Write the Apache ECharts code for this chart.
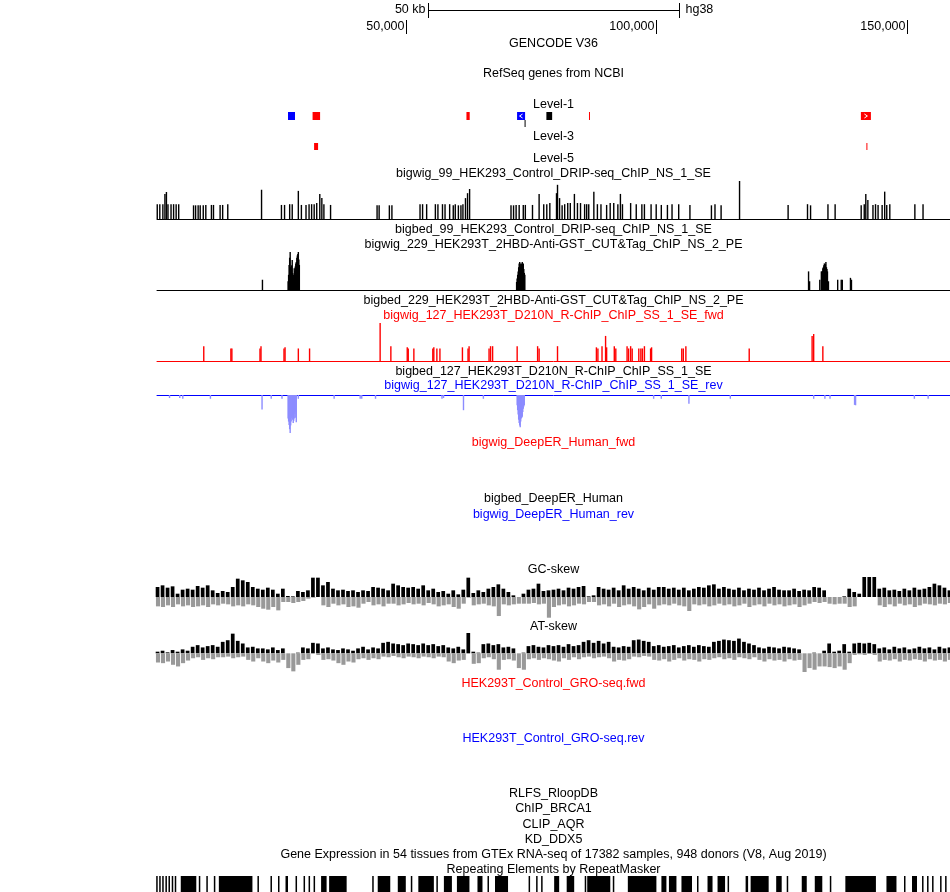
<!DOCTYPE html>
<html><head><meta charset="utf-8">
<script src="https://cdn.jsdelivr.net/npm/echarts@6/dist/echarts.min.js"></script>
<style>html,body{margin:0;padding:0;background:#fff}#c{width:950px;height:892px}</style>
</head><body><div id="c"></div>
<script>
// ---------------- DATA ----------------
const viewStartKb = 0.36, viewEndKb = 158.58;
const rulerTickKb = [50, 100, 150];
const rulerTickLabels = ['50,000', '100,000', '150,000'];
const scaleBarKb = 50;
const scaleBarLabel = '50 kb';
const assembly = 'hg38';

// gene models (kb)
const geneStartKb = [26.5, 31.4, 62.1, 72.2, 73.7, 78.05, 86.55, 140.8, 31.7, 141.9];
const geneEndKb   = [27.9, 32.9, 62.75, 73.8, 73.9, 79.2, 86.75, 142.8, 32.5, 142.1];
const geneRow     = [1, 1, 1, 1, 2, 1, 1, 1, 3, 3];
const geneClass   = ['known', 'novel', 'novel', 'known', 'other', 'other', 'novel', 'novel', 'novel', 'novel'];
const geneArrow   = [0, 0, 0, -1, 0, 0, 0, 1, 0, 0];

// DRIP-seq signal [kb, value]
const dripSignal = [[0.41,39],[0.92,39],[1.53,39],[1.94,66],[2.24,71],[2.55,39],[3.16,39],[3.67,39],[4.18,39],[4.69,39],
[7.65,36],[8.06,36],[8.57,36],[8.98,36],[9.59,36],[10.1,37],[11.22,37],[11.63,37],[12.95,37],[13.46,37],[14.48,39],
[21.22,77],
[25.19,37],[25.81,37],[26.83,39],[27.34,39],[28.56,74],[29.17,37],[30.09,37],[30.7,39],[31.21,39],[31.72,39],[32.23,42],[32.84,66],[33.25,55],[33.66,39],[34.99,37],
[44.27,36],[44.68,36],[46.72,36],[47.23,36],
[52.84,39],[53.35,39],[54.16,39],[55.9,39],[56.41,39],[57.32,39],[57.83,39],[58.75,39],[59.47,36],[59.87,39],[60.49,36],[61,36],[61.4,39],[61.91,55],[62.32,68],[62.73,79],
[70.99,36],[71.5,36],[72.01,37],[72.62,37],[73.44,37],[73.85,37],[75.28,37],[76.6,66],[77.52,39],[78.13,39],[78.74,42],[80.07,68],[80.27,90],[80.68,55],[81.19,36],[81.7,39],[82.31,42],[82.82,42],[83.64,66],[84.25,42],[84.86,42],[85.68,39],[86.09,39],[86.5,39],[87.52,72],[88.23,39],[88.94,39],[90.07,37],[90.78,42],[91.49,42],[92.31,39],[92.82,66],[93.23,39],[94.86,42],[95.98,39],[97.1,39],[97.61,39],[98.94,39],[99.96,39],[100.98,37],[102.2,37],[103.12,39],[104.45,39],[106.69,37],[110.98,36],[111.69,39],[112.91,36],[116.59,100],
[126.28,37],[130.15,39],[130.76,36],[134.23,39],[135.66,39],
[140.86,36],[141.47,39],[141.78,66],[142.19,50],[143.21,37],[143.72,39],[144.23,37],[145.04,37],[145.55,72],[145.96,37],[146.57,39],[151.57,39],[153.2,39]];

// CUT&Tag signal [kb, value]
const cutTagSignal = [[21.4,27],
[26.52,23],[26.62,40],[26.72,66],[26.83,85],[26.93,100],[27.03,60],[27.13,49],[27.23,65],[27.34,79],[27.44,45],[27.54,32],[27.64,40],[27.74,57],[27.85,50],[27.95,62],[28.05,70],[28.15,74],[28.26,85],[28.36,91],[28.46,95],[28.56,100],[28.66,80],[28.76,66],
[72.11,21],[72.21,30],[72.32,40],[72.42,49],[72.52,60],[72.62,70],[72.73,74],[72.83,70],[72.93,60],[73.03,66],[73.13,70],[73.24,74],[73.34,65],[73.44,70],[73.54,55],[73.65,45],[73.75,40],
[130.36,49],[130.56,23],[132.6,27],[132.91,49],[133.01,40],[133.11,50],[133.21,57],[133.31,60],[133.41,65],[133.52,70],[133.62,60],[133.72,68],[133.82,74],[133.93,60],[134.03,55],[134.13,49],[134.33,23],[136.17,27],[136.88,27],[137.09,27],[138.72,32],[138.92,27]];

// R-ChIP forward [kb, value]
const rchipFwd = [[9.69,39],[15.1,33],[15.3,33],[20.91,33],[21.11,39],[25.7,33],[25.91,36],[28.56,33],[30.8,33],[44.88,100],[47.02,39],[50.29,36],[50.49,33],[51.61,33],[55.39,33],[55.59,36],[56.2,33],[56.81,33],[61.3,36],[62.42,33],[62.63,39],[66.61,33],[66.91,39],[67.32,39],[72.22,39],[76.3,39],[76.6,33],[80.27,39],[88.03,36],[88.33,33],[89.15,39],[89.86,66],[90.07,36],[91.6,39],[91.9,33],[94.15,39],[94.45,33],[94.86,39],[95.17,33],[96.49,33],[96.9,33],[97.21,33],[97.61,39],[98.84,33],[99.04,36],[105.06,33],[105.37,33],[105.88,39],[118.52,33],[131.07,66],[131.38,71],[133.21,39]];

// R-ChIP reverse [kb, value]
const rchipRev = [[2.86,-8],[4.9,-8],[5.51,-10],[11.02,-10],[21.32,-38],[23.15,-10],[25.3,-10],[26.52,-62],[26.62,-70],[26.72,-79],[26.83,-90],[26.93,-100],[27.03,-80],[27.13,-70],[27.23,-60],[27.34,-53],[27.44,-65],[27.54,-74],[27.64,-68],[27.74,-62],[27.85,-50],[27.95,-44],[28.05,-60],[28.15,-72],[28.56,-10],[35.7,-10],[40.9,-10],[41.21,-10],[43.96,-10],[57.22,-10],[57.53,-8],[61.51,-40],[65.48,-10],
[72.22,-27],[72.32,-40],[72.42,-51],[72.52,-65],[72.62,-74],[72.73,-80],[72.83,-85],[72.93,-70],[73.03,-62],[73.13,-60],[73.24,-57],[73.34,-45],[73.44,-36],[73.54,-30],[73.64,-27],[99.45,-10],[100.98,-10],[106.49,-23],[114.75,-10],[131.38,-10],[133.62,-10],[134.64,-10],[139.54,-26],[139.74,-27],[151.47,-10],[154.22,-10]];

// GC-skew per 1 kb bin (positive part / negative depth)
const gcPos = [30,35,28,32,10,22,25,22,33,28,35,20,12,18,15,30,55,50,45,30,25,22,28,22,10,25,3,2,18,15,20,58,58,35,45,25,20,22,18,20,15,20,18,30,28,25,20,40,35,30,28,30,25,35,20,25,15,18,10,20,8,22,58,12,20,15,25,30,38,25,15,5,0,10,22,25,40,18,20,
22,25,20,28,25,30,33,2,5,30,25,22,28,20,35,25,30,25,20,28,22,30,30,25,28,22,28,20,25,30,28,35,38,25,30,25,22,28,20,25,22,28,20,25,30,22,20,20,25,18,22,20,30,28,20,0,0,0,2,25,15,10,60,60,60,25,28,20,22,18,25,20,28,22,25,30,40,35,28,20];
const gcNeg = [28,30,25,30,22,28,25,30,28,25,30,22,25,20,22,28,25,28,22,25,30,35,38,30,40,15,15,18,15,12,5,2,0,25,30,20,25,22,30,28,32,20,15,25,22,28,20,20,25,22,18,22,20,25,18,22,28,25,22,30,35,20,2,25,22,20,25,28,57,22,25,22,20,20,20,18,22,20,62,
30,25,22,28,25,20,22,15,15,25,22,28,20,30,25,22,28,37,30,22,35,25,22,25,20,25,28,42,22,25,22,28,25,20,25,22,28,25,20,30,25,22,28,20,25,22,28,25,22,30,25,20,15,18,15,20,22,20,20,30,28,0,0,0,0,25,30,22,28,20,25,22,30,25,20,22,25,20,22,18];

// AT-skew per 1 kb bin
const atPos = [5,8,3,10,5,12,8,20,25,18,22,25,20,35,40,60,38,30,18,20,15,15,12,18,10,15,0,0,2,18,15,32,30,15,18,12,10,15,12,8,15,20,12,18,15,32,35,30,28,25,30,28,25,30,25,28,22,25,18,15,20,12,62,5,2,28,30,25,28,18,20,15,0,2,22,25,20,18,25,22,
25,20,28,22,25,35,40,32,38,30,35,20,18,22,20,40,42,38,35,22,25,20,22,25,18,22,25,20,25,22,20,35,38,42,40,38,45,35,30,25,18,15,20,18,15,20,18,15,12,0,0,2,0,8,30,5,8,28,5,30,32,30,32,28,15,18,12,20,15,18,12,15,20,15,18,12,20,15,18];
const atNeg = [28,30,25,35,40,30,22,15,12,20,15,18,12,12,10,15,12,10,20,25,15,25,30,22,28,20,45,55,35,20,18,0,5,20,18,22,30,35,25,28,18,15,20,15,18,10,12,8,12,15,10,12,15,10,12,15,10,12,25,30,22,20,0,32,30,15,12,18,50,20,18,22,45,50,18,15,20,15,18,22,
25,15,20,12,18,12,10,15,12,10,15,25,20,22,18,10,12,8,10,20,22,18,25,20,15,22,18,20,25,18,20,15,12,18,15,20,12,15,18,12,20,25,18,22,20,25,18,22,20,57,45,50,40,40,42,45,40,50,30,5,3,5,2,5,25,20,22,18,25,20,22,18,20,25,18,22,20,25,20];

// RepeatMasker elements [startKb, endKb]
const repeatElements = [[0.2,0.5],[0.8,1.1],[1.4,1.7],[2.04,2.34],[2.65,2.95],[3.3,3.6],[3.9,4.2],[5.1,8.2],[8.7,9.0],[10.2,10.5],[11.7,12.0],[12.7,19.4],[20.4,20.7],[23.0,23.3],[24.5,24.8],[26.0,26.5],[28.0,28.3],[29.6,29.9],[30.6,30.9],[31.6,31.9],[33.1,34.2],[34.7,38.2],[43.3,43.6],[44.4,46.9],[48.4,50.0],[51.0,51.3],[52.5,55.6],[56.1,56.4],[57.6,59.2],[60.2,62.7],[64.3,65.3],[66.3,66.6],[67.8,70.4],[74.5,74.8],[76.0,76.3],[77.0,77.3],[79.6,80.6],[82.1,83.6],[85.7,86.0],[86.2,90.8],[91.3,91.6],[94.3,100.0],[101.0,102.0],[102.5,104.0],[105.0,107.1],[108.1,108.4],[110.2,111.2],[112.2,113.7],[114.2,114.5],[117.8,118.3],[118.8,122.4],[123.9,125.0],[126.0,126.3],[129.0,130.0],[131.6,133.1],[134.6,134.9],[137.7,143.8],[145.9,147.9],[149.4,149.7],[151.0,152.0],[153.0,153.3],[154.0,154.3],[155.0,155.3],[156.6,156.9],[157.6,157.9]];

// track titles
const trackTitles = ['GENCODE V36','RefSeq genes from NCBI','Level-1','Level-3','Level-5',
'bigwig_99_HEK293_Control_DRIP-seq_ChIP_NS_1_SE','bigbed_99_HEK293_Control_DRIP-seq_ChIP_NS_1_SE',
'bigwig_229_HEK293T_2HBD-Anti-GST_CUT&Tag_ChIP_NS_2_PE','bigbed_229_HEK293T_2HBD-Anti-GST_CUT&Tag_ChIP_NS_2_PE',
'bigwig_127_HEK293T_D210N_R-ChIP_ChIP_SS_1_SE_fwd','bigbed_127_HEK293T_D210N_R-ChIP_ChIP_SS_1_SE','bigwig_127_HEK293T_D210N_R-ChIP_ChIP_SS_1_SE_rev',
'bigwig_DeepER_Human_fwd','bigbed_DeepER_Human','bigwig_DeepER_Human_rev','GC-skew','AT-skew',
'HEK293T_Control_GRO-seq.fwd','HEK293T_Control_GRO-seq.rev','RLFS_RloopDB','ChIP_BRCA1','CLIP_AQR','KD_DDX5',
'Gene Expression in 54 tissues from GTEx RNA-seq of 17382 samples, 948 donors (V8, Aug 2019)','Repeating Elements by RepeatMasker'];
const trackStrand = ['','','','','','','','','','+','','-','+','','-','','','+','-','','','','','',''];

// ---------------- LAYOUT / STYLE ----------------
const FONT = '12.5px "Liberation Sans", Arial, sans-serif';
const titleY = [44,74,105,137,159,174,230,245,301,316,372,386,443,499,515,570,627,684,739,794,809,825,840,855,870];
const strandColor = {'': '#000000', '+': '#ff0000', '-': '#0000ff'};
const classColor = {known: '#0000ff', novel: '#ff0000', other: '#000000'};
const rowY = {1: [112, 7], 2: [120, 7], 3: [143, 7]};
const L = 157, W = 793, CX = 553.5;

const chart = echarts.init(document.getElementById('c'), null, {renderer: 'canvas'});

const grids = [
  {top: 0, height: 40},      // 0 ruler
  {top: 100, height: 55},    // 1 genes
  {top: 181, height: 38},    // 2 DRIP
  {top: 252, height: 38},    // 3 CUT&Tag
  {top: 323, height: 38},    // 4 R-ChIP fwd
  {top: 395, height: 38},    // 5 R-ChIP rev
  {top: 577, height: 40.7},  // 6 GC
  {top: 633, height: 40},    // 7 AT
  {top: 876, height: 16}     // 8 repeats
].map(g => Object.assign({left: L, width: W, containLabel: false}, g));

const axisLineColors = [null, null, '#000000', '#000000', '#ff0000', '#0000ff', null, null, null];
const xAxes = grids.map((g, i) => ({
  type: 'value', gridIndex: i, min: viewStartKb, max: viewEndKb,
  show: !!axisLineColors[i],
  axisLine: {show: !!axisLineColors[i], onZero: true, lineStyle: {color: axisLineColors[i] || '#000', width: 1}},
  axisTick: {show: false}, axisLabel: {show: false}, splitLine: {show: false}
}));
const yRanges = [[0,1],[0,1],[0,100],[0,100],[0,100],[-100,0],[-62,60],[-60,62],[0,1]];
const yAxes = yRanges.map((r, i) => ({
  type: 'value', gridIndex: i, min: r[0], max: r[1], show: false, splitLine: {show: false}
}));

function barRender(width, color) {
  return function (params, api) {
    const x = api.value(0), v = api.value(1);
    const p0 = api.coord([x, 0]), p1 = api.coord([x, v]);
    return {type: 'rect', shape: {x: p0[0] - width / 2, y: Math.min(p0[1], p1[1]), width: width, height: Math.abs(p1[1] - p0[1])},
      style: {fill: color}};
  };
}
function skewRender(params, api) {
  const x = api.value(0), pos = api.value(1), neg = api.value(2);
  const bw = api.size([1, 0])[0];
  const p0 = api.coord([x, 0]), pp = api.coord([x, pos]), pn = api.coord([x, neg]);
  return {type: 'group', children: [
    {type: 'rect', shape: {x: p0[0] - bw * 0.4, y: pp[1], width: bw * 0.74, height: p0[1] - pp[1]}, style: {fill: '#000000'}},
    {type: 'rect', shape: {x: p0[0] - bw * 0.35, y: p0[1], width: bw * 0.82, height: pn[1] - p0[1]}, style: {fill: '#999999'}}
  ]};
}

const series = [
  // ruler ticks
  {type: 'custom', xAxisIndex: 0, yAxisIndex: 0, silent: true,
   data: rulerTickKb.map((kb, i) => [kb, i]),
   renderItem: (params, api) => {
     const x = Math.round(api.coord([api.value(0), 0])[0]) + 0.5;
     return {type: 'group', children: [
       {type: 'line', shape: {x1: x, y1: 20, x2: x, y2: 34}, style: {stroke: '#000', lineWidth: 1}},
       {type: 'text', style: {x: x - 2, y: 27, text: rulerTickLabels[api.value(1)], font: FONT, fill: '#000', align: 'right', verticalAlign: 'middle'}}
     ]};
   }},
  // scale bar
  {type: 'custom', xAxisIndex: 0, yAxisIndex: 0, silent: true,
   data: [[(viewStartKb + viewEndKb) / 2, scaleBarKb]],
   renderItem: (params, api) => {
     const c = api.value(0), w = api.value(1);
     const x1 = Math.round(api.coord([c - w / 2, 0])[0]) + 0.5, x2 = Math.round(api.coord([c + w / 2, 0])[0]) + 0.5;
     return {type: 'group', children: [
       {type: 'line', shape: {x1: x1, y1: 10.5, x2: x2, y2: 10.5}, style: {stroke: '#000', lineWidth: 1}},
       {type: 'line', shape: {x1: x1, y1: 3, x2: x1, y2: 18}, style: {stroke: '#000', lineWidth: 1}},
       {type: 'line', shape: {x1: x2, y1: 3, x2: x2, y2: 18}, style: {stroke: '#000', lineWidth: 1}},
       {type: 'text', style: {x: x1 - 3, y: 10, text: scaleBarLabel, font: FONT, fill: '#000', align: 'right', verticalAlign: 'middle'}},
       {type: 'text', style: {x: x2 + 6, y: 10, text: assembly, font: FONT, fill: '#000', align: 'left', verticalAlign: 'middle'}}
     ]};
   }},
  // genes
  {type: 'custom', xAxisIndex: 1, yAxisIndex: 1, silent: true,
   data: geneStartKb.map((s, i) => [s, geneEndKb[i], i]),
   renderItem: (params, api) => {
     const i = api.value(2);
     const x1 = api.coord([api.value(0), 0])[0], x2 = api.coord([api.value(1), 0])[0];
     const r = rowY[geneRow[i]];
     const w = Math.max(1, x2 - x1);
     const ch = [{type: 'rect', shape: {x: x1, y: r[0], width: w, height: r[1] + (geneRow[i] === 1 ? 1 : 0)}, style: {fill: classColor[geneClass[i]]}}];
     if (geneArrow[i] !== 0) {
       const m = (x1 + x2) / 2, ym = r[0] + 4, d = geneArrow[i] * 1.5;
       ch.push({type: 'polyline', shape: {points: [[m - d, ym - 2], [m + d, ym], [m - d, ym + 2]]}, style: {stroke: '#fff', lineWidth: 1, fill: null}});
     }
     return {type: 'group', children: ch};
   }},
  {type: 'custom', xAxisIndex: 2, yAxisIndex: 2, silent: true, data: dripSignal, renderItem: barRender(1.4, '#000000')},
  {type: 'custom', xAxisIndex: 3, yAxisIndex: 3, silent: true, data: cutTagSignal, renderItem: barRender(1.4, '#000000')},
  {type: 'custom', xAxisIndex: 4, yAxisIndex: 4, silent: true, data: rchipFwd, renderItem: barRender(1.4, '#ff0000')},
  {type: 'custom', xAxisIndex: 5, yAxisIndex: 5, silent: true, data: rchipRev, renderItem: barRender(1.4, '#8c8cff')},
  {type: 'custom', xAxisIndex: 6, yAxisIndex: 6, silent: true, data: gcPos.map((v, k) => [k + 0.5, v, -gcNeg[k]]), renderItem: skewRender},
  {type: 'custom', xAxisIndex: 7, yAxisIndex: 7, silent: true, data: atPos.map((v, k) => [k + 0.5, v, -atNeg[k]]), renderItem: skewRender},
  {type: 'custom', xAxisIndex: 8, yAxisIndex: 8, silent: true, data: repeatElements,
   renderItem: (params, api) => {
     const x1 = api.coord([api.value(0), 0])[0], x2 = api.coord([api.value(1), 0])[0];
     const yTop = api.coord([0, 1])[1], yBot = api.coord([0, 0])[1];
     return {type: 'rect', shape: {x: x1, y: yTop, width: Math.max(1.5, x2 - x1), height: yBot - yTop}, style: {fill: '#000'}};
   }}
];

const graphic = trackTitles.map((t, i) => ({
  type: 'text', x: CX, y: titleY[i], silent: true,
  style: {text: t, font: FONT, fill: strandColor[trackStrand[i]], align: 'center', verticalAlign: 'middle'}
}));

chart.setOption({
  animation: false, backgroundColor: '#ffffff',
  grid: grids, xAxis: xAxes, yAxis: yAxes, series: series, graphic: graphic
});
</script></body></html>
